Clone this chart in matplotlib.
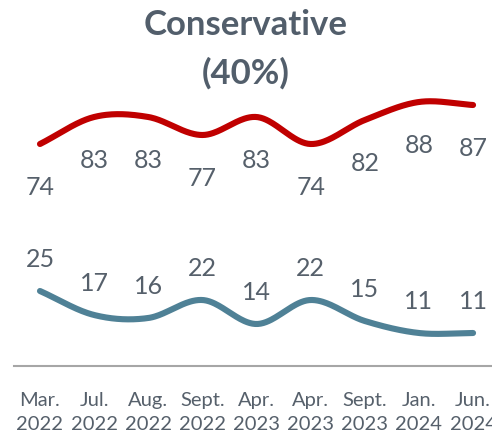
import numpy as np
import matplotlib
matplotlib.use("Agg")
import matplotlib.pyplot as plt

months = ["Mar.", "Jul.", "Aug.", "Sept.", "Apr.", "Apr.", "Sept.", "Jan.", "Jun."]
years = ["2022", "2022", "2022", "2022", "2023", "2023", "2023", "2024", "2024"]
approve = [74, 83, 83, 77, 83, 74, 82, 88, 87]
disapprove = [25, 17, 16, 22, 14, 22, 15, 11, 11]

title = "Conservative\n(40%)"
RED = "#c00000"
TEAL = "#4f8196"
TXT = "#56606b"
FONT = "Lato"


def smooth(y, n=40):
    y = np.asarray(y, float)
    x = np.arange(len(y), dtype=float)
    px = np.concatenate([[2 * x[0] - x[1]], x, [2 * x[-1] - x[-2]]])
    py = np.concatenate([[2 * y[0] - y[1]], y, [2 * y[-1] - y[-2]]])
    xs, ys = [], []
    for i in range(1, len(px) - 2):
        t = np.linspace(0, 1, n, endpoint=(i == len(px) - 3))
        p0, p1, p2, p3 = py[i - 1], py[i], py[i + 1], py[i + 2]
        q0, q1, q2, q3 = px[i - 1], px[i], px[i + 1], px[i + 2]
        def cr(a0, a1, a2, a3):
            return 0.5 * ((2 * a1) + (-a0 + a2) * t + (2 * a0 - 5 * a1 + 4 * a2 - a3) * t ** 2
                          + (-a0 + 3 * a1 - 3 * a2 + a3) * t ** 3)
        xs.append(cr(q0, q1, q2, q3))
        ys.append(cr(p0, p1, p2, p3))
    return np.concatenate(xs), np.concatenate(ys)


W, H = 492, 441
fig = plt.figure(figsize=(W / 100, H / 100), dpi=100)
left, right, top, bottom = 14, 492, 90, 366
ax = fig.add_axes([left / W, 1 - bottom / H, (right - left) / W, (bottom - top) / H])

x = np.arange(len(approve))
sx, sy = smooth(approve)
ax.plot(sx, sy, color=RED, lw=4.4, solid_capstyle="round")
sx, sy = smooth(disapprove)
ax.plot(sx, sy, color=TEAL, lw=4.4, solid_capstyle="round")

for i, v in enumerate(approve):
    ax.annotate(str(v), (i, v), xytext=(0, -31), textcoords="offset points",
                ha="center", va="center", fontsize=18, color=TXT, family=FONT)
for i, v in enumerate(disapprove):
    ax.annotate(str(v), (i, v), xytext=(0, 23), textcoords="offset points",
                ha="center", va="center", fontsize=18, color=TXT, family=FONT)

ax.set_xlim(-0.48, 8.35)
ax.set_ylim(0, 92)
for s in ["top", "left", "right"]:
    ax.spines[s].set_visible(False)
ax.spines["bottom"].set_color("#a6a6a6")
ax.spines["bottom"].set_linewidth(1.5)
ax.set_yticks([])
ax.set_xticks(x)
ax.set_xticklabels([f"{m}\n{y}" for m, y in zip(months, years)], fontsize=14.5,
                   color=TXT, family=FONT, linespacing=1.5)
ax.tick_params(axis="x", length=0, pad=19)

fig.text(0.5, 1 - 49 / H, title, ha="center", va="center", fontsize=25, fontweight="bold",
         color="#525e6b", family=FONT, linespacing=1.6)

fig.savefig("out.png", dpi=100)
